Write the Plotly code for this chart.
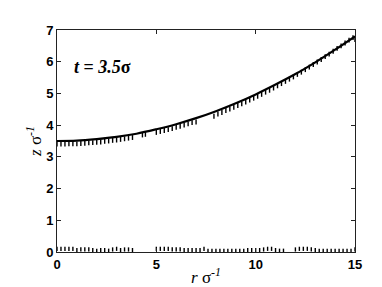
import plotly.graph_objects as go

# Solid curve (theory)
curve_r = [0, 1, 2, 3, 4, 5, 6, 7, 8, 9, 10, 11, 12, 13, 14, 15]
curve_z = [3.50, 3.51, 3.56, 3.63, 3.73, 3.87, 4.03, 4.22, 4.44, 4.69, 4.97, 5.28, 5.61, 5.98, 6.38, 6.80]

# Upper dotted data (simulation interface)
upper_r = [0, 0.2, 0.4, 0.6, 0.8, 1.0, 1.2, 1.4, 1.6, 1.8, 2.0, 2.2, 2.4, 2.6, 2.8, 3.0, 3.2, 3.4, 3.6, 3.8,
           4.3, 4.45, 5.0, 5.2, 5.4, 5.6, 5.8, 6.0, 6.2, 6.4, 6.6, 6.8, 7.0, 7.9, 8.1, 8.3, 8.5, 8.7,
           8.9, 9.1, 9.3, 9.5, 9.7, 9.9, 10.1, 10.3, 10.5, 10.7, 10.9, 11.1, 11.3, 11.5, 11.7, 11.9,
           12.1, 12.3, 12.5, 12.7, 12.9, 13.1, 13.3, 13.5, 13.7, 13.9, 14.1, 14.3, 14.5, 14.7, 14.9, 15.0]
upper_z = [3.40, 3.40, 3.40, 3.41, 3.41, 3.41, 3.42, 3.43, 3.44, 3.45, 3.46, 3.47, 3.49, 3.50, 3.52, 3.53, 3.55, 3.57, 3.59, 3.61,
           3.69, 3.71, 3.77, 3.80, 3.83, 3.86, 3.89, 3.93, 3.96, 4.00, 4.04, 4.08, 4.10, 4.28, 4.35, 4.40, 4.46, 4.51,
           4.56, 4.62, 4.67, 4.73, 4.79, 4.85, 4.91, 4.97, 5.04, 5.10, 5.17, 5.24, 5.31, 5.38, 5.45, 5.52,
           5.60, 5.67, 5.75, 5.83, 5.91, 5.99, 6.07, 6.16, 6.24, 6.33, 6.42, 6.50, 6.59, 6.68, 6.76, 6.70]

# Lower dotted data (wall layer)
lower_r = [0, 0.2, 0.4, 0.6, 0.8, 1.0, 1.2, 1.4, 1.6, 1.8, 2.0, 2.2, 2.4, 2.6, 2.8, 3.0, 3.2,
           3.4, 3.6, 3.8, 5.0, 5.2, 5.4, 5.6, 5.8, 6.0, 6.2, 6.4, 6.6, 6.8, 7.0, 7.2, 7.4, 7.6,
           7.8, 8.0, 8.2, 8.4, 8.6, 8.8, 9.0, 9.2, 9.4, 9.6, 9.8, 10.0, 10.2, 10.4, 10.6, 10.8,
           11.0, 11.2, 11.4, 12.0, 12.2, 12.4, 12.6, 12.8, 13.0, 13.2, 13.4, 13.6, 13.8, 14.0,
           14.2, 14.4, 14.6, 14.8, 15.0]
lower_z = [0.10, 0.10, 0.10, 0.10, 0.10, 0.06, 0.08, 0.08, 0.08, 0.06, 0.04, 0.06, 0.06, 0.04, 0.08, 0.10, 0.06,
           0.08, 0.08, 0.06, 0.10, 0.10, 0.10, 0.10, 0.08, 0.08, 0.08, 0.06, 0.06, 0.06, 0.06, 0.06, 0.10, 0.04,
           0.04, 0.04, 0.04, 0.04, 0.04, 0.04, 0.04, 0.04, 0.04, 0.06, 0.06, 0.06, 0.06, 0.08, 0.10, 0.10,
           0.06, 0.04, 0.04, 0.08, 0.10, 0.10, 0.10, 0.08, 0.06, 0.04, 0.04, 0.04, 0.04, 0.04,
           0.04, 0.04, 0.04, 0.04, 0.08]

x_ticks = [0, 5, 10, 15]
y_ticks = [0, 1, 2, 3, 4, 5, 6, 7]

fig = go.Figure()
fig.add_trace(go.Scatter(x=upper_r, y=upper_z, mode="markers",
                         marker=dict(symbol="line-ns", size=3.5, line=dict(color="black", width=1.4)),
                         showlegend=False))
fig.add_trace(go.Scatter(x=lower_r, y=lower_z, mode="markers",
                         marker=dict(symbol="line-ns", size=3, line=dict(color="black", width=1.4)),
                         showlegend=False))
fig.add_trace(go.Scatter(x=curve_r, y=curve_z, mode="lines", line=dict(color="black", width=2.2, shape="spline"),
                         showlegend=False))

axis_common = dict(showgrid=False, zeroline=False, showline=True, linecolor="#222", linewidth=1,
                   mirror="ticks", ticks="inside", ticklen=4, tickcolor="#222",
                   tickfont=dict(family="Liberation Sans, Arial", size=13, color="black"))

title_font = dict(family="Liberation Serif, Times New Roman", size=17, color="black")

fig.update_layout(
    width=382, height=287,
    margin=dict(l=49, r=35, t=22, b=40),
    paper_bgcolor="white", plot_bgcolor="white",
    xaxis=dict(range=[0, 15], tickvals=x_ticks, ticktext=["<b>%d</b>" % v for v in x_ticks],
               title=dict(text="<i>r</i> σ<sup><i>-1</i></sup>", standoff=0, font=title_font),
               **axis_common),
    yaxis=dict(range=[0, 7], tickvals=y_ticks, ticktext=["<b>%d</b>" % v for v in y_ticks],
               title=dict(text="<i>z</i> σ<sup><i>-1</i></sup>", standoff=0, font=title_font),
               **axis_common),
    annotations=[dict(x=0.75, y=5.82, xref="x", yref="y", xanchor="left", yanchor="middle",
                      text="<b><i>t</i> = <i>3.5</i>σ</b>", showarrow=False,
                      font=dict(family="Liberation Serif, Times New Roman", size=18, color="black"))],
)

fig.write_html("out.html")
